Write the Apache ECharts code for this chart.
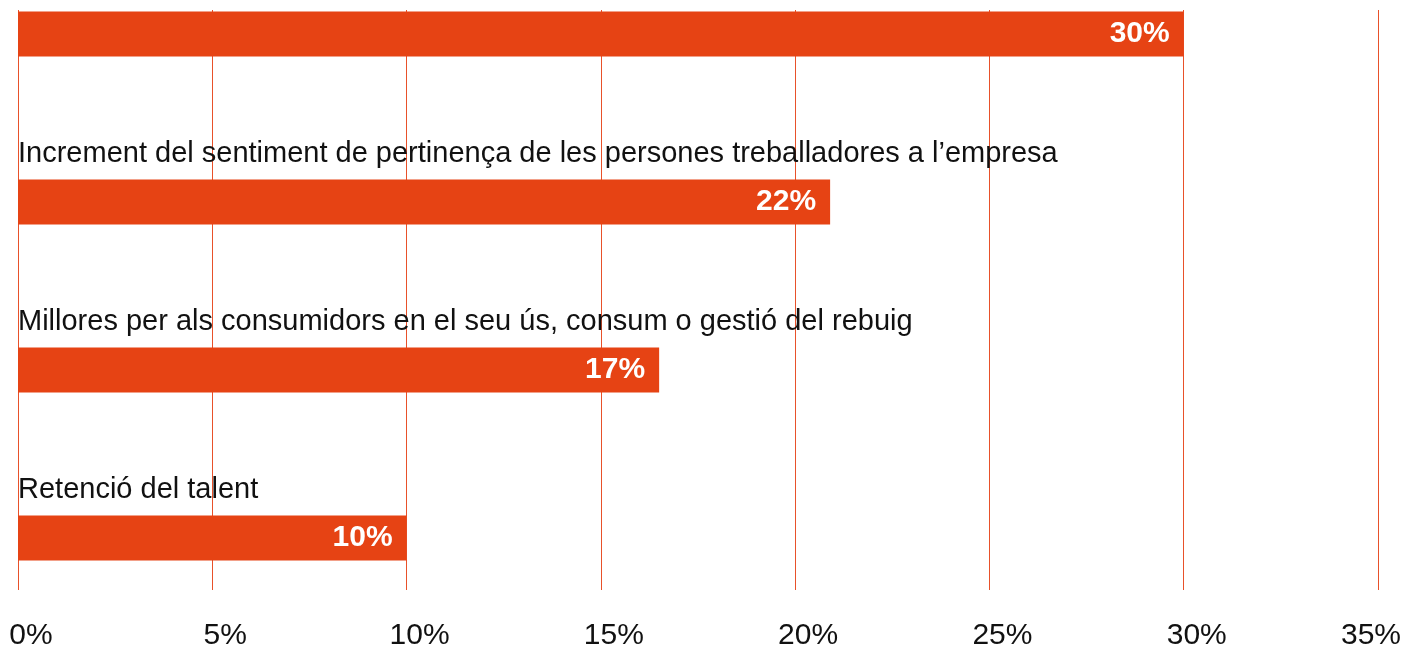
<!DOCTYPE html>
<html>
<head>
<meta charset="utf-8">
<script src="https://cdn.jsdelivr.net/npm/echarts@6/dist/echarts.min.js"></script>
<style>
  html, body { margin: 0; padding: 0; background: #fff; }
  #main { width: 1405px; height: 647px; }
</style>
</head>
<body>
<div id="main"></div>
<script>
// categories (first one's name is cut off at the top of the picture)
var categories = [
  "",
  "Increment del sentiment de pertinença de les persones treballadores a l’empresa",
  "Millores per als consumidors en el seu ús, consum o gestió del rebuig",
  "Retenció del talent"
];
// bar lengths as drawn, and the printed labels
var values = [30, 20.9, 16.5, 10];
var valueLabels = ["30%", "22%", "17%", "10%"];
var xTicks = [0, 5, 10, 15, 20, 25, 30, 35];

var orange = "#E64314";
var font = "Liberation Sans";

var chart = echarts.init(document.getElementById("main"));

var option = {
  animation: false,
  grid: [
    // grid for the vertical lines + axis labels
    { left: 18, right: 27, top: 10, bottom: 57, containLabel: false, outerBoundsMode: "none" },
    // grid for the bars
    { left: 18, right: 27, top: 34, bottom: 109, containLabel: false, outerBoundsMode: "none" }
  ],
  xAxis: [
    {
      gridIndex: 0,
      type: "value",
      min: xTicks[0],
      max: xTicks[xTicks.length - 1],
      interval: 5,
      axisLine: { show: false },
      axisTick: { show: false },
      splitLine: { show: true, lineStyle: { color: "#E8512A", width: 1 } },
      axisLabel: {
        formatter: function (v) {
          // last label is pulled back inside the canvas
          if (v === xTicks[xTicks.length - 1]) return "{last|" + v + "%}";
          return v + "%";
        },
        rich: {
          last: { fontFamily: font, fontSize: 30, color: "#111", padding: [0, 40, 0, 0] }
        },
        fontFamily: font,
        fontSize: 30,
        color: "#111",
        margin: 31,
        padding: [0, 0, 0, 26],
        hideOverlap: false
      }
    },
    {
      gridIndex: 1,
      type: "value",
      min: xTicks[0],
      max: xTicks[xTicks.length - 1],
      show: false,
      splitLine: { show: false }
    }
  ],
  yAxis: [
    {
      gridIndex: 0,
      type: "category",
      data: categories,
      show: false
    },
    {
      gridIndex: 1,
      type: "category",
      data: categories,
      inverse: true,
      boundaryGap: false,
      axisLine: { show: false },
      axisTick: { show: false },
      splitLine: { show: false },
      axisLabel: {
        inside: true,
        margin: 0,
        align: "left",
        verticalAlign: "bottom",
        padding: [0, 0, 34, 0],
        fontFamily: font,
        fontSize: 29,
        color: "#111"
      },
      z: 5
    }
  ],
  series: [
    {
      type: "bar",
      xAxisIndex: 1,
      yAxisIndex: 1,
      data: values,
      barWidth: 45,
      itemStyle: { color: orange },
      label: {
        show: true,
        position: "insideRight",
        distance: 14,
        padding: [3, 0, 0, 0],
        color: "#fff",
        fontWeight: "bold",
        fontFamily: font,
        fontSize: 30,
        formatter: function (p) {
          return valueLabels[p.dataIndex];
        }
      }
    }
  ]
};

chart.setOption(option);
</script>
</body>
</html>
